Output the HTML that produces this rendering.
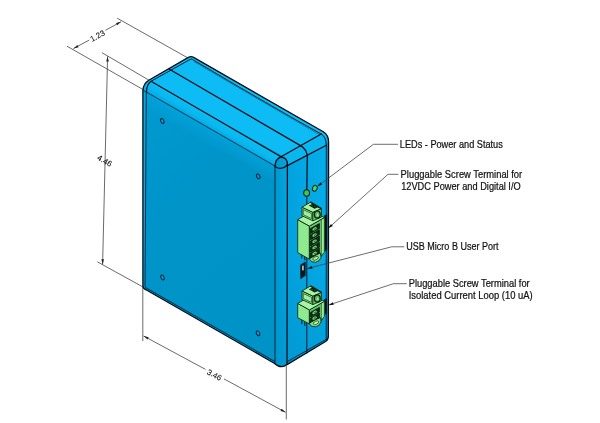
<!DOCTYPE html>
<html>
<head>
<meta charset="utf-8">
<title>Enclosure dimensions</title>
<style>
html,body{margin:0;padding:0;background:#fff;}
body{width:600px;height:423px;overflow:hidden;font-family:"Liberation Sans",sans-serif;}
svg{display:block;filter:blur(0.3px);}
text{font-family:"Liberation Sans",sans-serif;fill:#111;}
.dim{stroke:#444;stroke-width:0.8;fill:none;}
.lead{stroke:#3c3c3c;stroke-width:0.75;fill:none;}
.edge{stroke:#020c14;stroke-width:1.25;fill:none;stroke-linecap:round;stroke-linejoin:round;}
.thin{stroke:#031a2a;stroke-width:0.9;fill:none;}
.g{stroke:#0a260c;stroke-width:0.85;stroke-linejoin:round;}
</style>
</head>
<body>
<svg width="600" height="423" viewBox="0 0 600 423">
<defs>
  <linearGradient id="gFront" x1="0" y1="0" x2="0.45" y2="1">
    <stop offset="0" stop-color="#009ad0"/>
    <stop offset="0.45" stop-color="#0094c9"/>
    <stop offset="1" stop-color="#0093c7"/>
  </linearGradient>
  <linearGradient id="gFrontTop" gradientUnits="userSpaceOnUse" x1="200" y1="123" x2="192" y2="137">
    <stop offset="0" stop-color="#02a4dc" stop-opacity="0.75"/>
    <stop offset="1" stop-color="#02a4dc" stop-opacity="0"/>
  </linearGradient>
  <linearGradient id="gFilTop" gradientUnits="userSpaceOnUse" x1="203.5" y1="111.5" x2="196.5" y2="123.5">
    <stop offset="0" stop-color="#0dbcf4"/>
    <stop offset="0.5" stop-color="#0ab8f0"/>
    <stop offset="1" stop-color="#009fd8"/>
  </linearGradient>
  <linearGradient id="gTop" x1="0" y1="1" x2="0.4" y2="0">
    <stop offset="0" stop-color="#1fb0ea"/>
    <stop offset="1" stop-color="#2cbcf2"/>
  </linearGradient>
  <linearGradient id="gRight" x1="0" y1="0" x2="1" y2="0">
    <stop offset="0" stop-color="#00a2de"/>
    <stop offset="1" stop-color="#06aeea"/>
  </linearGradient>
  <linearGradient id="gShade" gradientUnits="userSpaceOnUse" x1="300" y1="150" x2="300" y2="365">
    <stop offset="0" stop-color="#0090c8" stop-opacity="0"/>
    <stop offset="0.45" stop-color="#0090c8" stop-opacity="0.08"/>
    <stop offset="1" stop-color="#0090c8" stop-opacity="0.5"/>
  </linearGradient>
  <linearGradient id="gFil" x1="0" y1="0" x2="1" y2="0">
    <stop offset="0" stop-color="#0096cc"/>
    <stop offset="1" stop-color="#02a6e2"/>
  </linearGradient>
<g id="blk" class="g">
  <!-- main top face -->
  <path d="M297.7 219.6 L312.6 211 L324.3 217.6 L309.4 226.1 Z" fill="#a8f3a6"/>
  <!-- block front-left face with inset panel -->
  <path d="M302 207.2 L312.9 212.3 L312.9 220.8 L302 215.8 Z" fill="#86e488"/>
  <path d="M303.3 209.7 L311.6 213.6 L311.6 218.6 L303.3 214.8 Z" fill="#9cf09b" stroke-width="0.6"/>
  <!-- block right face -->
  <path d="M312.9 212.3 L321.3 208.6 L321.3 217.2 L312.9 220.8 Z" fill="#6fd474"/>
  <!-- block top face -->
  <path d="M302 207.2 L310.5 202.2 L321.3 208.6 L312.9 212.3 Z" fill="#a8f3a6"/>
  <path d="M310.5 202.2 L321.3 208.6" stroke-width="1.5" fill="none"/>
  <!-- notch -->
  <path d="M308.8 205.4 L312.6 203.8 L318.6 207 L314.6 208.8 Z" fill="#0a1f0e" stroke="none"/>
  <path d="M311.6 205.6 L312.4 206 M314.6 206.4 L315.4 206.8" stroke="#5fc468" stroke-width="0.7"/>
  <!-- screw -->
  <ellipse cx="317.3" cy="214.6" rx="2.9" ry="3.6" fill="#57b95f" stroke="#061a09" stroke-width="1.2"/>
  <path d="M317.6 212.6 L319 216 L316.2 216.4 Z" fill="#9eea9e" stroke="none"/>
</g>
</defs>
<rect width="600" height="423" fill="#ffffff"/>

<!-- ===== dimension lines ===== -->
<g class="dim">
  <!-- 1.23 extension lines -->
  <path d="M117.2 18.2 L188 58"/>
  <path d="M67 46.2 L143 89.5"/>
  <!-- 1.23 dimension line -->
  <path d="M73.5 48.5 L89.2 40.1"/>
  <path d="M105.5 30.3 L121.1 21.7"/>
  <!-- 4.46 -->
  <path d="M102 52.7 L149 80.2"/>
  <path d="M107.6 56.4 L102.6 264.5"/>
  <path d="M97.3 261.8 L143 287"/>
  <!-- 3.46 -->
  <path d="M142.8 287 L142.8 341"/>
  <path d="M286.3 365.5 L286.3 419.5"/>
  <path d="M143.6 336 L205.5 369.4"/>
  <path d="M224 378.9 L285.6 412.3"/>
</g>
<g fill="#222" stroke="none">
  <path d="M73.5 48.5 L78.6 47.2 L77.4 45 Z"/>
  <path d="M121.1 21.7 L116 23 L117.2 25.2 Z"/>
  <path d="M107.6 56.4 L106.2 61.6 L108.8 61.6 Z"/>
  <path d="M102.6 264.5 L101.4 259.3 L104 259.3 Z"/>
  <path d="M143.6 336 L147.5 339.6 L148.7 337.3 Z"/>
  <path d="M285.6 412.3 L280.5 411 L281.7 408.7 Z"/>
</g>
<g font-size="7.95" text-anchor="middle" fill="#333" stroke="#333" stroke-width="0.12">
  <text transform="translate(97.3 35.7) rotate(-29)" y="3">1.23</text>
  <text transform="translate(104.8 160.6) rotate(30)" y="3">4.46</text>
  <text transform="translate(214.5 374.6) rotate(28)" y="3">3.46</text>
</g>

<!-- ===== enclosure ===== -->
<!-- silhouette base -->
<path d="M142.9 286 L142.9 91.5 C142.9 85 145 82.5 148.8 80.3 L188.4 57.4 Q191 55.9 193.6 57.4 L323.3 131.7 Q328.6 135 328.6 142 L328.4 335.5 Q328.5 339.6 326 341.2 L287 364.6 Q281 369.4 274.2 363.2 L146 289.8 Q142.9 288.5 142.9 286 Z" fill="#0094c8"/>
<!-- top face (incl. edge bevels) -->
<path d="M148.8 80.3 L188.4 57.4 Q191 55.9 193.6 57.4 L323.3 131.7 Q327 134 328 137 L283 156.3 L151 81.3 Z" fill="#0dbcf4"/>
<!-- front-top fillet band -->
<path d="M142.9 91.5 C142.9 85 145 82.5 148.8 80.3 L151 81.3 L281 156.8 Q276 159 275 166 L143.5 90.4 Z" fill="url(#gFilTop)"/>
<!-- front face -->
<path d="M142.9 90.2 L275 166 L275 363.3 L146 289.8 Q142.9 288.5 142.9 286 Z" fill="url(#gFront)"/>
<path d="M142.9 90.2 L275 166 L275 182 L142.9 106.2 Z" fill="url(#gFrontTop)"/>
<!-- left strip -->
<path d="M142.9 91 L146.3 92.6 L145 287.2 Q143 286.6 142.9 285 Z" fill="#06a6e0"/>
<!-- front-right vertical fillet -->
<path d="M275 166 Q276 158 281 156.8 Q288 158 287.4 165 L287 364.6 Q281 369.4 274.2 363.2 L275 363 Z" fill="url(#gFil)"/>
<!-- right face -->
<path d="M287.4 165 Q288 158 283 156.3 L328 137 Q328.6 139 328.6 142 L328.4 335.5 Q328.5 339.6 326 341.2 L287 364 Z" fill="url(#gRight)"/>
<!-- right face vertical shade -->
<path d="M275 166 L287.4 165 L326.2 143.6 L328.6 142 L328.4 335.5 Q328.5 339.6 326 341.2 L287 364.6 Q281 369.4 274.2 363.2 L275 363 Z" fill="url(#gShade)"/>
<!-- top-right fillet band -->
<path d="M281 156.8 L321.2 134 Q326.4 137 326.3 145.3 L287.4 165.6 Q288 158 281 156.8 Z" fill="#0ab6ee"/>
<!-- right face far strip -->
<path d="M326.2 143.6 L328.6 142 L328.4 335.5 Q328.5 339.6 326.2 341 Z" fill="#0390c6"/>

<!-- thin tangent edges -->
<g class="thin">
  <path d="M151 81.3 L190.2 59.4 Q191.5 58.8 192.6 59.6 L240 87.6 L296 120 L321.2 134" stroke-width="1"/>
  <path d="M194 61.6 L240 88.7 L296 121.1 L319.6 134.8" stroke="#0a7ea6" stroke-width="0.9"/>
  <path d="M146.3 92.6 L145 286 Q145.3 287.6 147 288.4 L275 361.6"/>
  <path d="M275 166 L275 363"/>
  <path d="M326.3 145.3 L326.2 340.2"/>
  <path d="M287 361.8 L327.6 338.6"/>
</g>
<!-- strong edges -->
<g class="edge">
  <path d="M142.9 286 L142.9 91.5 C142.9 85 145 82.5 148.8 80.3 L188.4 57.4 Q191 55.9 193.6 57.4 L323.3 131.7 Q328.6 135 328.6 142 L328.4 335.5 Q328.5 339.6 326 341.2 L287 364.6 Q281 369.4 274.2 363.2 L146 289.8 Q142.9 288.5 142.9 286 Z"/>
  <path d="M146.4 92.4 C146.5 86 148 83.3 151 81.3 L281 156.8"/>
  <path d="M143.5 90.4 L275 166" stroke-width="0.85" stroke="#06283c"/>
  <path d="M169 69 L300.5 145.6 Q307.3 149.5 307.3 157 L306.8 190"/>
  <path d="M306.8 196 L306.8 353.2" stroke-width="0.9"/>
  <path d="M281 156.8 L321.2 134"/>
  <path d="M287.4 165.6 L326.3 145.3"/>
  <path d="M321.2 134 Q326.4 137 326.3 145.3" stroke-width="0.95"/>
  <path d="M275 166 Q275.5 158.5 281 156.8 Q288 158 287.4 165"/>
  <path d="M275 166.4 Q281.5 171 287.4 165"/>
  <path d="M287.4 165 L287 364.3"/>
</g>

<!-- holes -->
<g fill="#06a0d8" stroke="#081c2c" stroke-width="0.95">
  <ellipse cx="162.3" cy="121" rx="1.55" ry="2.5" transform="rotate(-25 162.3 121)"/>
  <ellipse cx="258.2" cy="176.4" rx="1.55" ry="2.5" transform="rotate(-25 258.2 176.4)"/>
  <ellipse cx="162.5" cy="277.5" rx="1.55" ry="2.5" transform="rotate(-25 162.5 277.5)"/>
  <ellipse cx="258" cy="333.3" rx="1.55" ry="2.5" transform="rotate(-25 258 333.3)"/>
</g>

<!-- LEDs -->
<ellipse cx="306.6" cy="193" rx="2.9" ry="3.2" fill="#3fc55a" stroke="#08240c" stroke-width="1.1"/>
<ellipse cx="314.8" cy="188.3" rx="2.3" ry="3" fill="#4fd066" stroke="#08240c" stroke-width="0.9" transform="rotate(25 314.8 188.3)"/>

<!-- ===== connector 1 (6 pos) ===== -->
<g class="g">
  <path d="M324.2 215.4 L327.2 213.9 L327.2 249.4 L324.2 252 Z" fill="#050f07" stroke="none"/>
  <path d="M301.8 254 L301.8 258.4 M304.8 255.8 L304.8 260.2" stroke="#050f07" stroke-width="1"/>
  <path d="M297.7 219.6 L309.4 226.1 L309.4 259.2 L297.7 252.6 Z" fill="#8fea8f"/>
  <path d="M309.4 226.1 L324.3 217.6 L324.3 252.2 L320.4 257.4 L309.4 259.2 Z" fill="#62c86c"/>
  <path d="M321.4 219.4 L324.3 217.6 L324.3 252.2 L321.4 255.6 Z" fill="#98ee98" stroke-width="0.5"/>
  <path d="M309.4 259.2 L311.5 256 L320.4 253 L321 257.5 Q320 261.3 315.5 262.3 Q311.5 262.7 309.4 259.2 Z" fill="#86e288"/>
  <ellipse cx="315.6" cy="258.3" rx="3" ry="1.5" fill="#b6f5b5" stroke-width="0.6" transform="rotate(-25 315.6 258.3)"/>
  <path d="M310.4 228.6 L319.4 223.6 L319.4 228.6 L310.4 233.6 Z" fill="#0d2c14" stroke="#06160a" stroke-width="0.8"/>
  <ellipse cx="314.6" cy="228.8" rx="2.5" ry="1.35" transform="rotate(-30 314.6 228.8)" fill="#6fcf7a" stroke="none"/>
  <ellipse cx="314.9" cy="229.1" rx="1.1" ry="0.6" transform="rotate(-30 314.6 228.8)" fill="#2a6a34" stroke="none"/>
  <path d="M310.4 234.8 L319.4 229.8 L319.4 234.8 L310.4 239.8 Z" fill="#0d2c14" stroke="#06160a" stroke-width="0.8"/>
  <ellipse cx="314.6" cy="235.0" rx="2.5" ry="1.35" transform="rotate(-30 314.6 235.0)" fill="#6fcf7a" stroke="none"/>
  <ellipse cx="314.9" cy="235.3" rx="1.1" ry="0.6" transform="rotate(-30 314.6 235.0)" fill="#2a6a34" stroke="none"/>
  <path d="M310.4 241.0 L319.4 236.0 L319.4 241.0 L310.4 246.0 Z" fill="#0d2c14" stroke="#06160a" stroke-width="0.8"/>
  <ellipse cx="314.6" cy="241.2" rx="2.5" ry="1.35" transform="rotate(-30 314.6 241.2)" fill="#6fcf7a" stroke="none"/>
  <ellipse cx="314.9" cy="241.5" rx="1.1" ry="0.6" transform="rotate(-30 314.6 241.2)" fill="#2a6a34" stroke="none"/>
  <path d="M310.4 247.2 L319.4 242.2 L319.4 247.2 L310.4 252.2 Z" fill="#0d2c14" stroke="#06160a" stroke-width="0.8"/>
  <ellipse cx="314.6" cy="247.4" rx="2.5" ry="1.35" transform="rotate(-30 314.6 247.4)" fill="#6fcf7a" stroke="none"/>
  <ellipse cx="314.9" cy="247.7" rx="1.1" ry="0.6" transform="rotate(-30 314.6 247.4)" fill="#2a6a34" stroke="none"/>
  <path d="M310.4 253.2 L319.4 248.2 L319.4 253.2 L310.4 258.2 Z" fill="#0d2c14" stroke="#06160a" stroke-width="0.8"/>
  <ellipse cx="314.6" cy="253.4" rx="2.5" ry="1.35" transform="rotate(-30 314.6 253.4)" fill="#6fcf7a" stroke="none"/>
  <ellipse cx="314.9" cy="253.7" rx="1.1" ry="0.6" transform="rotate(-30 314.6 253.4)" fill="#2a6a34" stroke="none"/>
</g>
<use href="#blk"/>

<!-- USB port -->
<path d="M300.6 264.9 L305.3 261.9 L305.3 275.6 L300.6 278.8 Z" fill="#0b161d" stroke="#0b161d" stroke-width="0.6" stroke-linejoin="round"/>
<rect x="302" y="265.6" width="1.8" height="4.8" fill="#b9b3bb"/>

<!-- ===== connector 2 (2 pos) ===== -->
<g class="g">
  <path d="M324.2 299.4 L326.8 298 L326.8 313 L324.2 315.4 Z" fill="#050f07" stroke="none"/>
  <path d="M301.8 319.8 L301.8 324.2 M304.8 321.6 L304.8 326" stroke="#050f07" stroke-width="1"/>
  <path d="M297.7 303.4 L309.4 309.9 L309.4 323.9 L297.7 317.7 Z" fill="#8fea8f"/>
  <path d="M309.4 309.9 L324.3 301.4 L324.3 316.4 L320.6 321.6 L309.4 323.9 Z" fill="#62c86c"/>
  <path d="M321.4 303.2 L324.3 301.4 L324.3 316.4 L321.4 320 Z" fill="#98ee98" stroke-width="0.5"/>
  <path d="M309.4 323.9 L311.5 320.6 L320.6 317.6 L321 322 Q320 325.8 315.5 326.8 Q311.5 327.2 309.4 323.9 Z" fill="#86e288"/>
  <ellipse cx="316" cy="322.8" rx="3" ry="1.5" fill="#b6f5b5" stroke-width="0.6" transform="rotate(-25 316 322.8)"/>
  <path d="M310.4 312.4 L319.4 307.4 L319.4 312.0 L310.4 317.0 Z" fill="#0d2c14" stroke="#06160a" stroke-width="0.8"/>
  <ellipse cx="314.6" cy="312.4" rx="2.5" ry="1.35" transform="rotate(-30 314.6 312.4)" fill="#6fcf7a" stroke="none"/>
  <ellipse cx="314.9" cy="312.7" rx="1.1" ry="0.6" transform="rotate(-30 314.6 312.4)" fill="#2a6a34" stroke="none"/>
  <path d="M310.4 318.0 L319.4 313.0 L319.4 317.6 L310.4 322.6 Z" fill="#0d2c14" stroke="#06160a" stroke-width="0.8"/>
  <ellipse cx="314.6" cy="318.0" rx="2.5" ry="1.35" transform="rotate(-30 314.6 318.0)" fill="#6fcf7a" stroke="none"/>
  <ellipse cx="314.9" cy="318.3" rx="1.1" ry="0.6" transform="rotate(-30 314.6 318.0)" fill="#2a6a34" stroke="none"/>
</g>
<use href="#blk" transform="translate(0 83.8)"/>

<!-- ===== leaders ===== -->
<g class="lead">
  <path d="M398 144.3 L373.4 144.3 L321.4 183.4"/>
  <path d="M398.4 174.3 L388 174.3 L331.9 225.0"/>
  <path d="M404.2 246.8 L391.7 246.8 L312.1 267.3"/>
  <path d="M406.8 283.7 L393.4 283.7 L333.3 303.5"/>
</g>
<g fill="#0c0c0c">
  <path d="M317.1 186.6 L322.2 184.4 L320.6 182.3 Z"/>
  <path d="M327.9 228.6 L332.8 226.0 L331.0 224.0 Z"/>
  <path d="M306.9 268.7 L312.5 268.7 L311.8 266.0 Z"/>
  <path d="M328.2 305.2 L333.8 304.8 L332.9 302.2 Z"/>
</g>

<!-- ===== labels ===== -->
<g font-size="10.6" stroke="#111" stroke-width="0.22">
  <text x="399.8" y="148.2" textLength="103" lengthAdjust="spacingAndGlyphs">LEDs - Power and Status</text>
  <text x="400.6" y="178.3" textLength="121.6" lengthAdjust="spacingAndGlyphs">Pluggable Screw Terminal for</text>
  <text x="401.2" y="190.1" textLength="119.5" lengthAdjust="spacingAndGlyphs">12VDC Power and Digital I/O</text>
  <text x="406.3" y="250.3" textLength="92.2" lengthAdjust="spacingAndGlyphs">USB Micro B User Port</text>
  <text x="408.7" y="287.2" textLength="121" lengthAdjust="spacingAndGlyphs">Pluggable Screw Terminal for</text>
  <text x="408.7" y="298.5" textLength="124" lengthAdjust="spacingAndGlyphs">Isolated Current Loop (10 uA)</text>
</g>
</svg>
</body>
</html>
